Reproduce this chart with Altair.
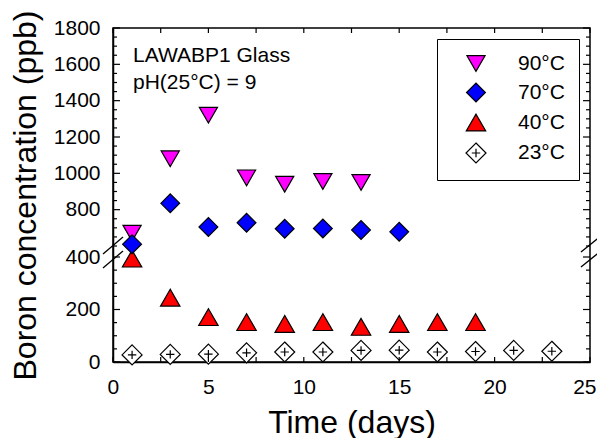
import altair as alt
import pandas as pd

FONT = "Liberation Sans"

# ---- data ----
series_names = ["90°C", "70°C", "40°C", "23°C"]
series_fill = ["#FF00FF", "#0000FF", "#FF0000", "#FFFFFF"]

days_90 = [1, 3, 5, 7, 9, 11, 13]
boron_90 = [670, 1080, 1320, 975, 940, 955, 950]

days_70 = [1, 3, 5, 7, 9, 11, 13, 15]
boron_70 = [610, 835, 705, 728, 695, 697, 688, 678]

days_40 = [1, 3, 5, 7, 9, 11, 13, 15, 17, 19]
boron_40 = [394, 245, 171, 152, 145, 152, 134, 145, 152, 152]

days_23 = [1, 3, 5, 7, 9, 11, 13, 15, 17, 19, 21, 23]
boron_23 = [27, 29, 30, 35, 38, 38, 44, 45, 38, 40, 44, 41]

x_label_values = [0, 5, 10, 15, 20, 25]
x_tick_values = [0, 2.5, 5, 7.5, 10, 12.5, 15, 17.5, 20, 22.5, 25]
y_label_values = [0, 200, 400, 800, 1000, 1200, 1400, 1600, 1800]
y_minor_values = [v for v in list(range(0, 401, 50)) + list(range(600, 1801, 50))
                  if v not in y_label_values]

rows = []
# drawing order: 23, 40, 90, 70 (blue on top)
for name, ds, vs in [("23°C", days_23, boron_23), ("40°C", days_40, boron_40),
                     ("90°C", days_90, boron_90), ("70°C", days_70, boron_70)]:
    for d, v in zip(ds, vs):
        rows.append({"day": d, "boron": v, "series": name})
df = pd.DataFrame(rows)

W, H = 477, 334

xscale = alt.Scale(domain=[0, 25], nice=False, zero=False)
# broken axis: 0-400 on lower part, 600-1800 on upper part
yscale = alt.Scale(domain=[0, 400, 600, 1800], range=[H, 229, 218, 0], nice=False, zero=False)

plus_diamond = "M0,-1L1,0L0,1L-1,0Z M-0.42,0L0.42,0 M0,-0.42L0,0.42"
shape_range = ["triangle-down", "diamond", "triangle-up", plus_diamond]
size_range = [330, 400, 330, 290]

x_axis = alt.Axis(values=x_label_values, ticks=False, grid=False, format="d",
                  labelFlush=True, labelFlushOffset=6, labelPadding=14,
                  title="Time (days)", titleY=70, titleBaseline="alphabetic")
y_axis = alt.Axis(values=y_label_values, ticks=False, grid=False, format="d",
                  labelFlush=False, labelPadding=13, title="Boron concentration (ppb)",
                  titleX=-78, titleY=H / 2, titleAngle=-90,
                  titleBaseline="alphabetic")

legend = alt.Legend(orient="top-right", offset=11, title="",
                    strokeColor="black", padding=14, symbolOffset=14,
                    labelOffset=31, rowPadding=6,
                    symbolStrokeWidth=1.2,
                    labelFont=FONT, labelFontSize=21, labelColor="black")

points = alt.Chart(df).mark_point(
    filled=True, opacity=1, strokeWidth=1.2
).encode(
    x=alt.X("day:Q", scale=xscale, axis=x_axis),
    y=alt.Y("boron:Q", scale=yscale, axis=y_axis),
    fill=alt.Fill("series:N", scale=alt.Scale(domain=series_names, range=series_fill),
                  legend=legend),
    stroke=alt.Stroke("series:N", scale=alt.Scale(domain=series_names, range=["black"] * 4),
                      legend=legend),
    shape=alt.Shape("series:N", scale=alt.Scale(domain=series_names, range=shape_range),
                    legend=legend),
    size=alt.Size("series:N", scale=alt.Scale(domain=series_names, range=size_range),
                  legend=legend),
)

xt = pd.DataFrame({"day": x_tick_values})
ymaj = pd.DataFrame({"boron": y_label_values})
ymin = pd.DataFrame({"boron": y_minor_values})

tick_style = dict(color="black", strokeWidth=1.2)

bottom_ticks = alt.Chart(xt).mark_rule(**tick_style).encode(
    x=alt.X("day:Q"), y=alt.value(H), y2=alt.value(H - 5))
top_ticks = alt.Chart(xt).mark_rule(**tick_style).encode(
    x=alt.X("day:Q"), y=alt.value(0), y2=alt.value(5))
left_major = alt.Chart(ymaj).mark_rule(**tick_style).encode(
    y=alt.Y("boron:Q"), x=alt.value(0), x2=alt.value(7))
left_minor = alt.Chart(ymin).mark_rule(**tick_style).encode(
    y=alt.Y("boron:Q"), x=alt.value(0), x2=alt.value(4))
right_major = alt.Chart(ymaj).mark_rule(**tick_style).encode(
    y=alt.Y("boron:Q"), x=alt.value(W), x2=alt.value(W - 7))
right_minor = alt.Chart(ymin).mark_rule(**tick_style).encode(
    y=alt.Y("boron:Q"), x=alt.value(W), x2=alt.value(W - 4))

one = alt.Data(values=[{"a": 1}])


def brk(x1, y1, x2, y2):
    return alt.Chart(one).mark_rule(color="black", strokeWidth=1.3).encode(
        x=alt.value(x1), y=alt.value(y1), x2=alt.value(x2), y2=alt.value(y2))


breaks = [brk(-10, 226, 10, 209), brk(-10, 240, 10, 223),
          brk(468, 224, 489, 207), brk(468, 239, 489, 222)]

txt_style = dict(align="left", baseline="alphabetic", font=FONT, fontSize=21, color="black")
t1 = alt.Chart(one).mark_text(**txt_style).encode(
    x=alt.value(20), y=alt.value(34), text=alt.value("LAWABP1 Glass"))
t2 = alt.Chart(one).mark_text(**txt_style).encode(
    x=alt.value(20), y=alt.value(61), text=alt.value("pH(25°C) = 9"))

chart = alt.layer(
    points, bottom_ticks, top_ticks, left_major, left_minor, right_major, right_minor,
    *breaks, t1, t2
).properties(
    width=W, height=H,
    autosize=alt.AutoSizeParams(type="none"),
    padding={"left": 105, "top": 20, "right": 7, "bottom": 76},
).configure_view(
    stroke="black", strokeWidth=1.5
).configure_axis(
    labelFont=FONT, labelFontSize=21, labelColor="black",
    titleFont=FONT, titleFontSize=32, titleFontWeight="normal", titleColor="black",
    domainColor="black", domainWidth=1.5,
)

chart.save("out.html", embed_options={"renderer": "svg", "actions": False})
